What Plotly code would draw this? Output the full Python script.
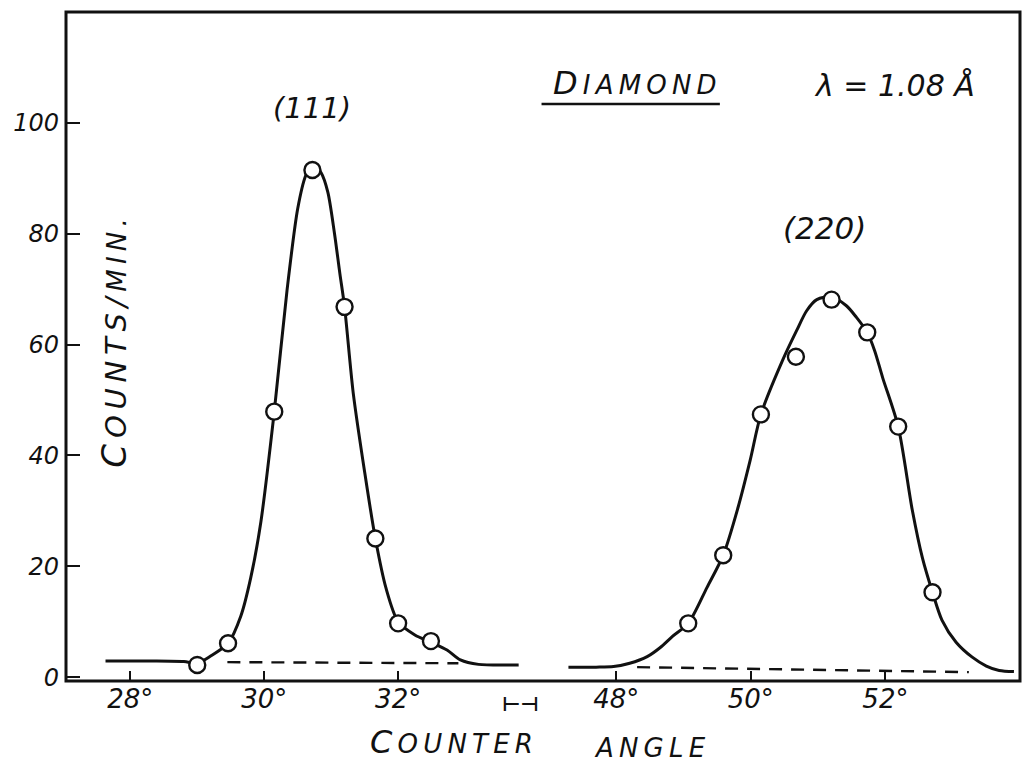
import plotly.graph_objects as go

# ---- data ----
# (111) reflection, measured points
pts111_x = [29.0, 29.46, 30.15, 30.72, 31.2, 31.66, 32.0, 32.49]
pts111_y = [2.2, 6.1, 47.9, 91.5, 66.8, 25.0, 9.7, 6.5]
# (111) hand-drawn curve, sampled
curve111_x = [27.63, 28.3, 28.8, 29.0, 29.2, 29.46, 29.65, 29.8, 29.95, 30.15, 30.34,
              30.5, 30.62, 30.72, 30.85, 30.95, 31.05, 31.13, 31.2, 31.33, 31.5, 31.66,
              31.82, 32.0, 32.25, 32.49, 32.73, 32.93, 33.2, 33.8]
curve111_y = [2.9, 2.9, 2.8, 2.5, 3.8, 6.1, 11.0, 18.0, 28.0, 47.9, 69.7,
              84.5, 90.5, 92.6, 91.0, 87.5, 80.0, 72.8, 66.8, 51.2, 37.0, 25.0,
              16.0, 10.0, 7.6, 6.3, 4.9, 3.1, 2.3, 2.2]
base111_x = [29.45, 32.9]
base111_y = [2.7, 2.5]

# (220) reflection, measured points
pts220_x = [49.07, 49.59, 50.15, 50.67, 51.2, 51.73, 52.19, 52.7]
pts220_y = [9.7, 22.0, 47.4, 57.8, 68.1, 62.2, 45.2, 15.3]
curve220_x = [47.29, 47.7, 47.96, 48.2, 48.46, 48.65, 48.84, 49.07, 49.35, 49.59, 49.81,
              49.99, 50.15, 50.47, 50.68, 50.83, 50.98, 51.2, 51.42, 51.57, 51.73, 51.84,
              51.96, 52.19, 52.4, 52.55, 52.7, 52.84, 53.05, 53.29, 53.5, 53.69, 53.91]
curve220_y = [1.8, 1.8, 1.9, 2.5, 3.7, 5.3, 7.4, 9.7, 16.2, 22.0, 30.6,
              39.1, 47.4, 57.1, 62.5, 66.1, 68.1, 68.6, 67.0, 64.9, 62.2, 58.9,
              54.0, 45.2, 30.1, 21.5, 15.3, 10.3, 6.3, 3.6, 2.0, 1.2, 1.0]
base220_x = [48.31, 53.24]
base220_y = [1.8, 0.9]

left_ticks = [28, 30, 32]
right_ticks = [48, 50, 52]
y_ticks = [0, 20, 40, 60, 80, 100]

FONT = "DejaVu Sans"
black = "#111111"

fig = go.Figure()

curve_line = dict(color=black, width=3, shape="spline", smoothing=0.8)
dash_line = dict(color=black, width=2.4, dash="13px,9px")
fig.add_trace(go.Scatter(x=curve111_x, y=curve111_y, mode="lines", xaxis="x", yaxis="y",
                         line=curve_line, showlegend=False, hoverinfo="skip"))
fig.add_trace(go.Scatter(x=curve220_x, y=curve220_y, mode="lines", xaxis="x2", yaxis="y",
                         line=curve_line, showlegend=False, hoverinfo="skip"))
fig.add_trace(go.Scatter(x=base111_x, y=base111_y, mode="lines", xaxis="x", yaxis="y",
                         line=dash_line, showlegend=False, hoverinfo="skip"))
fig.add_trace(go.Scatter(x=base220_x, y=base220_y, mode="lines", xaxis="x2", yaxis="y",
                         line=dash_line, showlegend=False, hoverinfo="skip"))
marker = dict(symbol="circle", size=16, color="white", line=dict(color=black, width=2.4))
fig.add_trace(go.Scatter(x=pts111_x, y=pts111_y, mode="markers", xaxis="x", yaxis="y",
                         marker=marker, showlegend=False))
fig.add_trace(go.Scatter(x=pts220_x, y=pts220_y, mode="markers", xaxis="x2", yaxis="y",
                         marker=marker, showlegend=False))

D = 0.478
tickfont = dict(family=FONT, size=26, color=black, style="italic")
fig.update_layout(
    width=1036, height=772,
    margin=dict(l=66, r=16, t=12, b=91),
    paper_bgcolor="white", plot_bgcolor="white",
    font=dict(family=FONT, color=black, style="italic"),
    xaxis=dict(domain=[0, D], range=[27.04, 33.85], tickvals=left_ticks,
               ticktext=[f"{t}°" for t in left_ticks], ticks="inside", ticklen=10,
               tickwidth=2, tickcolor=black, showgrid=False, zeroline=False,
               showline=False, tickfont=tickfont, anchor="y"),
    xaxis2=dict(domain=[D, 1], range=[46.6, 54.0], tickvals=right_ticks,
                ticktext=[f"{t}°" for t in right_ticks], ticks="inside", ticklen=10,
                tickwidth=2, tickcolor=black, showgrid=False, zeroline=False,
                showline=False, tickfont=tickfont, anchor="y"),
    yaxis=dict(domain=[0, 1], range=[-0.7, 120], tickvals=y_ticks,
               ticktext=[str(t) for t in y_ticks], ticks="inside", ticklen=14,
               tickwidth=2, tickcolor=black, showgrid=False, zeroline=False,
               showline=False, tickfont=dict(family=FONT, size=24, color=black, style="italic"),
               ticklabelstandoff=6),
)

# frame
fig.add_shape(type="rect", xref="paper", yref="paper", x0=0, x1=1, y0=0, y1=1,
              line=dict(color=black, width=3), layer="above")
# underline of DIAMOND
fig.add_shape(type="line", xref="x2", yref="y", x0=46.89, x1=49.54, y0=103.4, y1=103.4,
              line=dict(color=black, width=2.4))

ts = "\u2009"
ann_font = dict(family=FONT, size=26, color=black, style="italic")
annotations = [
    dict(text="(111)", xref="x", yref="y", x=30.72, y=102.7, font=dict(family=FONT, size=29, color=black, style="italic")),
    dict(text="(220)", xref="x2", yref="y", x=51.1, y=81.0, font=dict(family=FONT, size=31, color=black, style="italic")),
    dict(text="<span style='font-size:32px'>D</span>" + ts + ts.join("IAMOND"),
         xref="x2", yref="y", x=48.28, y=107.2),
    dict(text="λ = 1.08 Å", xref="x2", yref="y", x=52.13, y=106.8,
         font=dict(family=FONT, size=30, color=black, style="italic")),
    dict(text="<span style='font-size:34px'>C</span>" + ts + ts.join("OUNTS")
         + ts + "/" + ts + "<span style='font-size:26px'>" + ts.join("MIN.") + "</span>",
         xref="x", yref="y", x=27.76, y=60.2, textangle=-90,
         font=dict(family=FONT, size=29, color=black, style="italic")),
    dict(text="<span style='font-size:32px'>C</span>" + ts + ts.join("OUNTER"), xref="paper", yref="paper",
         x=0.4036, y=-0.091),
    dict(text=ts.join("ANGLE"), xref="paper", yref="paper", x=0.612, y=-0.100),
    dict(text="<b>⊢⊣</b>", xref="paper", yref="paper", x=0.476, y=-0.034,
         font=dict(family=FONT, size=20, color=black)),
]
for a in annotations:
    a.setdefault("font", ann_font)
    a.update(showarrow=False, xanchor="center", yanchor="middle")
    fig.add_annotation(**a)

fig.write_html("out.html")
